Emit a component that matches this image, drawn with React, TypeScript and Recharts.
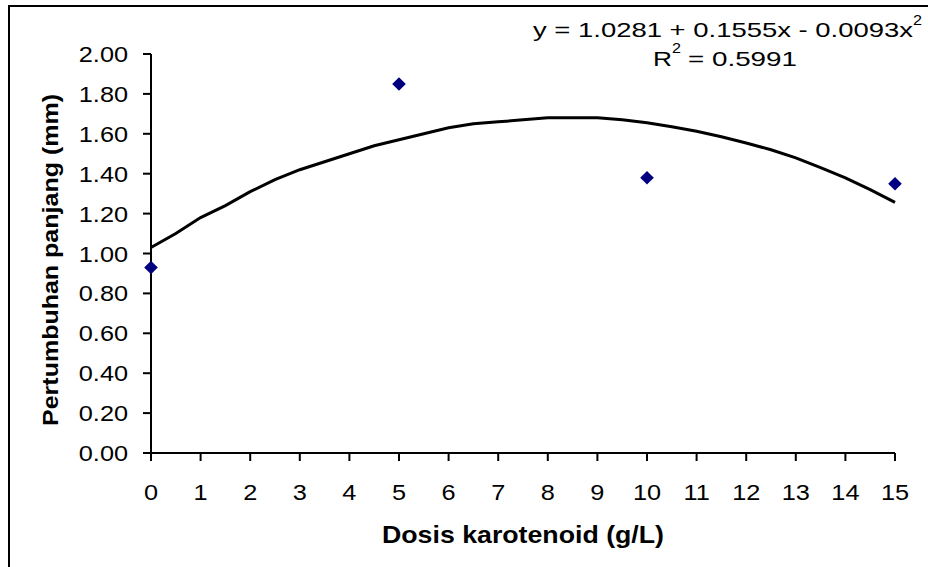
import React from "react";
import {
  ComposedChart,
  Line,
  Scatter,
  XAxis,
  YAxis,
} from "recharts";

// observed points
const doses = [0, 5, 10, 15];
const growth = [0.93, 1.85, 1.38, 1.35];

// polynomial trendline, every 0.5 g/L
const trendDoses = [
  0, 0.5, 1, 1.5, 2, 2.5, 3, 3.5, 4, 4.5, 5, 5.5, 6, 6.5, 7, 7.5, 8, 8.5, 9,
  9.5, 10, 10.5, 11, 11.5, 12, 12.5, 13, 13.5, 14, 14.5, 15,
];
const trendGrowth = [
  1.03, 1.1, 1.18, 1.24, 1.31, 1.37, 1.42, 1.46, 1.5, 1.54, 1.57, 1.6, 1.63,
  1.65, 1.66, 1.67, 1.68, 1.68, 1.68, 1.67, 1.655, 1.635, 1.613, 1.585, 1.554,
  1.52, 1.479, 1.43, 1.379, 1.32, 1.256,
];

const xTicks = [0, 1, 2, 3, 4, 5, 6, 7, 8, 9, 10, 11, 12, 13, 14, 15];
const yTicks = [0, 0.2, 0.4, 0.6, 0.8, 1.0, 1.2, 1.4, 1.6, 1.8, 2.0];

const FONT = '"Liberation Sans", Arial, sans-serif';

const points = doses.map((d, i) => ({ x: d, y: growth[i] }));
const trend = trendDoses.map((d, i) => ({ x: d, y: trendGrowth[i] }));

const XTick = (props: any) => {
  const { x, y, payload } = props;
  return (
    <g transform={`translate(${x},${y})`}>
      <text
        transform="scale(1.15,1)"
        textAnchor="middle"
        dy={39}
        fontSize={22}
        fontFamily={FONT}
        fill="#000"
      >
        {payload.value}
      </text>
    </g>
  );
};

const YTick = (props: any) => {
  const { x, y, payload } = props;
  return (
    <g transform={`translate(${x},${y})`}>
      <text
        transform="scale(1.15,1)"
        textAnchor="end"
        dy={8}
        fontSize={22}
        fontFamily={FONT}
        fill="#000"
      >
        {Number(payload.value).toFixed(2)}
      </text>
    </g>
  );
};

const Diamond = (props: any) => {
  const { cx, cy } = props;
  const r = 6.8;
  return (
    <polygon
      points={`${cx},${cy - r} ${cx + r},${cy} ${cx},${cy + r} ${cx - r},${cy}`}
      fill="#000080"
    />
  );
};

export default function App() {
  return (
    <div
      style={{
        position: "absolute",
        left: 0,
        top: 0,
        width: 928,
        height: 567,
        background: "#fff",
      }}
    >
      <div
        style={{
          position: "absolute",
          left: 8,
          top: 5,
          width: 920,
          height: 562,
          borderTop: "2px solid #000",
          borderLeft: "2px solid #000",
        }}
      />
      <div style={{ position: "absolute", left: 0, top: 0 }}>
        <ComposedChart
          width={928}
          height={567}
          margin={{ top: 54, right: 33, bottom: 0, left: 0 }}
        >
          <XAxis
            dataKey="x"
            type="number"
            domain={[0, 15]}
            ticks={xTicks}
            interval={0}
            tickSize={8}
            tickMargin={0}
            height={114}
            axisLine={{ stroke: "#000", strokeWidth: 2 }}
            tickLine={{ stroke: "#000", strokeWidth: 2 }}
            tick={<XTick />}
            label={{
              content: () => (
                <text
                  x={523}
                  y={543}
                  textAnchor="middle"
                  textLength={282}
                  lengthAdjust="spacingAndGlyphs"
                  fontSize={24}
                  fontWeight="bold"
                  fontFamily={FONT}
                  fill="#000"
                >
                  Dosis karotenoid (g/L)
                </text>
              ),
            }}
          />
          <YAxis
            type="number"
            domain={[0, 2]}
            ticks={yTicks}
            interval={0}
            width={151}
            tickSize={8}
            tickMargin={15}
            axisLine={{ stroke: "#000", strokeWidth: 2 }}
            tickLine={{ stroke: "#000", strokeWidth: 2 }}
            tick={<YTick />}
            label={{
              content: () => (
                <text
                  x={0}
                  y={0}
                  transform="translate(58,260) rotate(-90)"
                  textAnchor="middle"
                  textLength={332}
                  lengthAdjust="spacingAndGlyphs"
                  fontSize={22}
                  fontWeight="bold"
                  fontFamily={FONT}
                  fill="#000"
                >
                  Pertumbuhan panjang (mm)
                </text>
              ),
            }}
          />
          <Line
            data={trend}
            dataKey="y"
            type="linear"
            stroke="#000"
            strokeWidth={3}
            dot={false}
            activeDot={false}
            isAnimationActive={false}
          />
          <Scatter
            data={points}
            dataKey="y"
            shape={<Diamond />}
            isAnimationActive={false}
          />
        </ComposedChart>
      </div>
      <svg
        width={928}
        height={567}
        style={{ position: "absolute", left: 0, top: 0, pointerEvents: "none" }}
      >
        <g fontFamily={FONT} fill="#000">
          <text x={533} y={37} fontSize={21} textLength={380} lengthAdjust="spacingAndGlyphs">
            y = 1.0281 + 0.1555x - 0.0093x
          </text>
          <text x={913} y={25} fontSize={14} textLength={9} lengthAdjust="spacingAndGlyphs">
            2
          </text>
          <text x={653} y={66} fontSize={21} textLength={19} lengthAdjust="spacingAndGlyphs">
            R
          </text>
          <text x={672} y={53} fontSize={14} textLength={9} lengthAdjust="spacingAndGlyphs">
            2
          </text>
          <text x={688} y={66} fontSize={21} textLength={109} lengthAdjust="spacingAndGlyphs">
            = 0.5991
          </text>
        </g>
      </svg>
    </div>
  );
}
